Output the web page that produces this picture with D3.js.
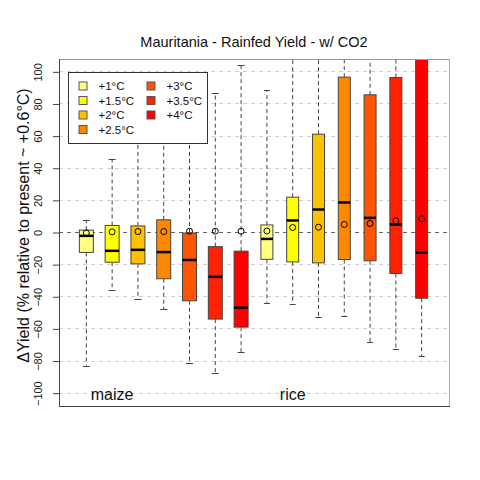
<!DOCTYPE html>
<html><head><meta charset="utf-8">
<script src="https://cdn.jsdelivr.net/npm/d3@7"></script>
<style>body{margin:0;background:#fff}svg{display:block;font-family:"Liberation Sans",Arial,sans-serif}</style>
</head><body><svg id="c" width="480" height="480"></svg>
<script>
const crops = ["maize", "rice"];
const warming = ["+1°C", "+1.5°C", "+2°C", "+2.5°C", "+3°C", "+3.5°C", "+4°C"];
const colors = ["#FFFF80", "#FFFF00", "#FFC000", "#FF8800", "#FF5500", "#FF2200", "#FF0000"];
// per box: [lower whisker, Q1, median, Q3, upper whisker], means
const maizeStats = [
  [-82.8, -12.4, -2.1, 1.5, 7.9],
  [-35.9, -18.5, -11.4, 4.4, 45.9],
  [-41.5, -19.5, -10.8, 4.1, 70],
  [-47.7, -28.8, -12.2, 7.9, 75],
  [-81.1, -42.5, -17.1, -0.3, 65],
  [-87.6, -53.9, -27.6, -8.8, 87.0],
  [-74.4, -58.9, -46.8, -11.6, 104.5]
];
const maizeMeans = [-0.3, 0.4, 0.6, 0.6, 0.8, 0.8, 0.8];
const riceStats = [
  [-43.7, -16.7, -4.0, 4.7, 88.6],
  [-44.6, -18.3, 7.5, 22.0, 140],
  [-52.3, -18.9, 14.3, 61.2, 150],
  [-52.1, -16.8, 18.7, 96.7, 160],
  [-68.3, -17.6, 9.1, 85.7, 160],
  [-72.4, -25.5, 5.0, 96.5, 170],
  [-77.0, -40.9, -12.5, 120, 180]
];
const riceMeans = [0.9, 3.1, 3.3, 5.0, 5.6, 7.3, 8.5];
const yTicks = [-100, -80, -60, -40, -20, 0, 20, 40, 60, 80, 100];
const title = "Mauritania - Rainfed Yield - w/ CO2";
const yLabel = "ΔYield (% relative to present ~ +0.6°C)";

const L = 59, R = 449, T = 59, B = 406;
const svg = d3.select("#c");
const x = d3.scaleLinear().domain([-0.06, 15.06]).range([L, R]);
const y = d3.scaleLinear().domain([-108, 108]).range([B, T]);

svg.append("defs").append("clipPath").attr("id", "pc")
  .append("rect").attr("x", L).attr("y", T).attr("width", R - L).attr("height", B - T);

// gridlines
svg.append("g").selectAll("line").data(yTicks).join("line")
  .attr("x1", L).attr("x2", R).attr("y1", d => y(d)).attr("y2", d => y(d))
  .attr("stroke", d => d === 0 ? "#666" : "#cfcfcf").attr("stroke-width", 1)
  .attr("stroke-dasharray", "4,4").attr("shape-rendering", "crispEdges");

const boxes = [];
maizeStats.forEach((s, i) => boxes.push({pos: i + 1, s, mean: maizeMeans[i], col: colors[i], w: 14}));
riceStats.forEach((s, i) => boxes.push({pos: i + 8, s, mean: riceMeans[i], col: colors[i], w: 12}));

const g = svg.append("g").attr("clip-path", "url(#pc)");
const bg = g.selectAll("g.box").data(boxes).join("g");
// whiskers
bg.append("line").attr("x1", d => x(d.pos)).attr("x2", d => x(d.pos))
  .attr("y1", d => y(d.s[3])).attr("y2", d => y(d.s[4]))
  .attr("stroke", "#444").attr("stroke-dasharray", "4,3");
bg.append("line").attr("x1", d => x(d.pos)).attr("x2", d => x(d.pos))
  .attr("y1", d => y(d.s[1])).attr("y2", d => y(d.s[0]))
  .attr("stroke", "#444").attr("stroke-dasharray", "4,3");
// caps
[0, 4].forEach(k => {
  bg.append("line").attr("x1", d => x(d.pos) - d.w / 4).attr("x2", d => x(d.pos) + d.w / 4)
    .attr("y1", d => Math.round(y(d.s[k])) + 0.5).attr("y2", d => Math.round(y(d.s[k])) + 0.5)
    .attr("stroke", "#444");
});
// box
bg.append("rect").attr("x", d => x(d.pos) - d.w / 2).attr("width", d => d.w)
  .attr("y", d => y(d.s[3])).attr("height", d => y(d.s[1]) - y(d.s[3]))
  .attr("fill", d => d.col).attr("stroke", "#444").attr("stroke-width", 1);
// median
bg.append("line").attr("x1", d => x(d.pos) - d.w / 2).attr("x2", d => x(d.pos) + d.w / 2)
  .attr("y1", d => y(d.s[2])).attr("y2", d => y(d.s[2]))
  .attr("stroke", "#000").attr("stroke-width", 2.5);
// mean
bg.append("circle").attr("cx", d => x(d.pos)).attr("cy", d => y(d.mean)).attr("r", 3)
  .attr("fill", "none").attr("stroke", "#000").attr("stroke-width", 1);

// plot frame
svg.append("line").attr("x1", L).attr("x2", R).attr("y1", T + 0.5).attr("y2", T + 0.5).attr("stroke", "#999");
svg.append("line").attr("x1", R + 0.5).attr("x2", R + 0.5).attr("y1", T).attr("y2", B).attr("stroke", "#aaa");
svg.append("line").attr("x1", L).attr("x2", R + 1).attr("y1", B + 0.5).attr("y2", B + 0.5).attr("stroke", "#444");
svg.append("line").attr("x1", L + 0.5).attr("x2", L + 0.5).attr("y1", T).attr("y2", B + 1).attr("stroke", "#444");

// y axis
const ax = svg.append("g").attr("transform", `translate(${L},0)`)
  .call(d3.axisLeft(y).tickValues(yTicks).tickSize(6).tickPadding(0).tickFormat(d3.format("d")));
ax.select(".domain").remove();
ax.selectAll("line").attr("stroke", "#444");
ax.selectAll("text").attr("font-size", 11).attr("fill", "#222").attr("font-family", "Liberation Sans, Arial")
  .attr("text-anchor", "middle").attr("x", 0).attr("dy", 0)
  .attr("transform", "translate(-17,0) rotate(-90)");

// title
svg.append("text").attr("x", (L + R) / 2).attr("y", 47).attr("text-anchor", "middle")
  .attr("font-size", 14.5).attr("fill", "#111").text(title);
// y label
svg.append("text").attr("transform", `translate(29,${(T + B) / 2 - 7}) rotate(-90)`)
  .attr("text-anchor", "middle").attr("font-size", 16).attr("fill", "#111").text(yLabel);

// crop labels
svg.append("g").selectAll("text").data(crops).join("text")
  .attr("x", (d, i) => x(i * 7 + 2)).attr("y", 400).attr("text-anchor", "middle")
  .attr("font-size", 16).attr("fill", "#111").text(d => d);

// legend
const lg = svg.append("g");
lg.append("rect").attr("x", 68.5).attr("y", 72.5).attr("width", 139).attr("height", 71)
  .attr("fill", "#fff").attr("stroke", "#333");
const li = lg.selectAll("g").data(warming).join("g")
  .attr("transform", (d, i) => `translate(${i < 4 ? 83 : 151},${86 + (i % 4) * 14.5})`);
li.append("rect").attr("x", -4).attr("y", -4).attr("width", 8).attr("height", 8)
  .attr("fill", (d, i) => colors[i]).attr("stroke", "#555");
li.append("text").attr("x", 15.5).attr("y", 4.2).attr("font-size", 11.5).attr("fill", "#111").text(d => d);
</script></body></html>
